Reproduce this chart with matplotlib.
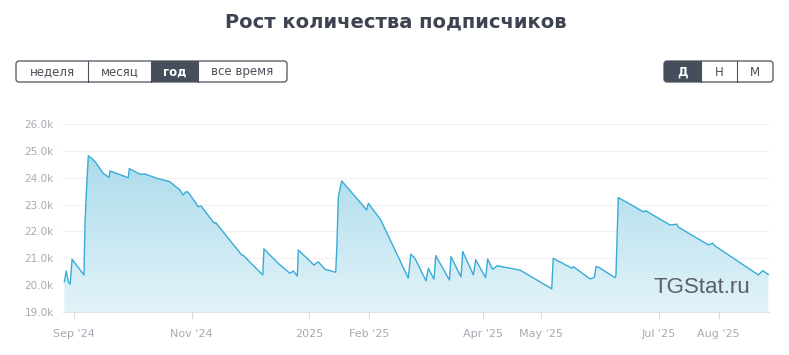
import matplotlib
matplotlib.use("Agg")
import matplotlib.pyplot as plt
import matplotlib.dates as mdates
from matplotlib.patches import FancyBboxPatch, Rectangle, Polygon
import numpy as np
import pandas as pd

title = "Рост количества подписчиков"
period_buttons = ["неделя", "месяц", "год", "все время"]
active_period = "год"
scale_buttons = ["Д", "Н", "М"]
active_scale = "Д"
watermark = "TGStat.ru"

dates = [
    "2024-08-27 00:00", "2024-08-28 00:00", "2024-08-29 00:00", "2024-08-30 00:00", "2024-08-31 00:00",
    "2024-09-06 04:00", "2024-09-06 17:00", "2024-09-07 09:00", "2024-09-08 10:00",
    "2024-09-10 04:00", "2024-09-11 22:00", "2024-09-16 04:00", "2024-09-19 03:00",
    "2024-09-19 16:00", "2024-09-29 03:00", "2024-09-29 16:00", "2024-10-05 05:00",
    "2024-10-07 19:00", "2024-10-13 20:00", "2024-10-20 17:00", "2024-10-25 22:00",
    "2024-10-27 14:00", "2024-10-29 00:00", "2024-10-30 05:00", "2024-11-04 10:00",
    "2024-11-05 19:00", "2024-11-12 17:00", "2024-11-13 10:00", "2024-11-26 22:00",
    "2024-11-27 20:00", "2024-12-07 19:00", "2024-12-08 10:00", "2024-12-15 20:00",
    "2024-12-21 22:00", "2024-12-23 15:00", "2024-12-25 17:00", "2024-12-26 05:00",
    "2025-01-03 08:00", "2025-01-05 14:00", "2025-01-09 01:00", "2025-01-14 14:00",
    "2025-01-15 03:00", "2025-01-15 23:00", "2025-01-17 17:00", "2025-01-30 16:00",
    "2025-01-31 12:00", "2025-02-06 22:00", "2025-02-21 05:00", "2025-02-22 12:00",
    "2025-02-24 17:00", "2025-03-02 09:00", "2025-03-03 14:00", "2025-03-06 12:00",
    "2025-03-07 10:00", "2025-03-14 12:00", "2025-03-15 08:00", "2025-03-20 12:00",
    "2025-03-21 10:00", "2025-03-26 22:00", "2025-03-28 03:00", "2025-04-02 07:00",
    "2025-04-03 08:00", "2025-04-05 22:00", "2025-04-08 07:00", "2025-04-20 02:00",
    "2025-05-04 18:00", "2025-05-06 12:00", "2025-05-07 07:00", "2025-05-16 22:00",
    "2025-05-17 17:00", "2025-05-26 10:00", "2025-05-28 14:00", "2025-05-29 12:00",
    "2025-05-30 17:00", "2025-06-08 07:00", "2025-06-08 19:00", "2025-06-10 00:00",
    "2025-06-16 23:00", "2025-06-22 23:00", "2025-06-24 05:00", "2025-07-06 19:00",
    "2025-07-10 07:00", "2025-07-11 03:00", "2025-07-26 16:00", "2025-07-28 22:00",
    "2025-07-30 03:00", "2025-08-21 14:00", "2025-08-23 19:00", "2025-08-26 17:00",
]
subscribers = [
    20130, 20530, 20130, 20040, 20960,
    20380, 22300, 23420, 24820,
    24720, 24600, 24160, 24010,
    24250, 24000, 24340, 24130,
    24140, 23980, 23850, 23540,
    23360, 23480, 23460, 22920,
    22950, 22300, 22330, 21120,
    21100, 20380, 21350, 20810,
    20440, 20530, 20340, 21310,
    20750, 20870, 20590, 20480,
    21310, 23290, 23880, 22800,
    23050, 22430, 20260, 21150,
    20990, 20160, 20630, 20220,
    21100, 20190, 21060, 20310,
    21250, 20380, 20940, 20280,
    20970, 20590, 20720, 20560,
    19940, 19860, 21000, 20630,
    20690, 20230, 20290, 20690,
    20670, 20280, 20380, 23260,
    22980, 22730, 22770, 22240,
    22270, 22160, 21500, 21560,
    21460, 20380, 20540, 20400,
]

tick_dates = ["2024-09-01", "2024-11-01", "2025-01-01", "2025-02-01",
              "2025-04-01", "2025-05-01", "2025-07-01", "2025-08-01"]
tick_labels = ["Sep '24", "Nov '24", "2025", "Feb '25",
               "Apr '25", "May '25", "Jul '25", "Aug '25"]
y_ticks = [19000, 20000, 21000, 22000, 23000, 24000, 25000, 26000]

W, H = 789, 355
fig = plt.figure(figsize=(W / 100, H / 100), dpi=100)
fig.patch.set_facecolor("white")

ax_l, ax_r, ax_t, ax_b = 63.3, 769.0, 124.0, 312.0
ax = fig.add_axes([ax_l / W, 1 - ax_b / H, (ax_r - ax_l) / W, (ax_b - ax_t) / H])

x = mdates.date2num(pd.to_datetime(dates, format="%Y-%m-%d %H:%M"))
y = np.array(subscribers, dtype=float)
ymin, ymax = y_ticks[0], y_ticks[-1]
xmin = mdates.date2num(pd.Timestamp("2024-08-26 11:00"))
xmax = mdates.date2num(pd.Timestamp("2025-08-27 02:00"))

verts = [(x[0], ymin)] + list(zip(x, y)) + [(x[-1], ymin)]
poly = Polygon(verts, closed=True, facecolor="none", edgecolor="none")
ax.add_patch(poly)
g = np.linspace(0, 1, 256)[:, None, None]
top = np.array([159, 215, 233]) / 255
bot = np.array([227, 243, 249]) / 255
img = top * (1 - g) + bot * g
im = ax.imshow(img, extent=[xmin, xmax, ymin, ymax], aspect="auto",
               origin="upper", zorder=1, interpolation="bilinear")
im.set_clip_path(poly)

ax.plot(x, y, color="#38acd7", lw=1.0, zorder=3)

ax.set_xlim(xmin, xmax)
ax.set_ylim(ymin, ymax)
ax.set_yticks(y_ticks)
ax.set_yticklabels([f"{v/1000:.1f}k" for v in y_ticks])
ax.set_xticks(mdates.date2num(pd.to_datetime(tick_dates, format="%Y-%m-%d")))
ax.set_xticklabels(tick_labels)
ax.grid(axis="y", color="#f0f0f0", lw=0.8)
ax.set_axisbelow(True)
for s in ["top", "right", "left"]:
    ax.spines[s].set_visible(False)
ax.spines["bottom"].set_color("#e2e4e8")
ax.spines["bottom"].set_linewidth(0.8)
ax.tick_params(axis="x", length=5, width=0.8, color="#d8dbe0", labelcolor="#a5aab2",
               labelsize=8, pad=7)
ax.tick_params(axis="y", length=0, pad=7, labelsize=7.5, labelcolor="#a5aab2")
ax.patch.set_visible(False)

ov = fig.add_axes([0, 0, 1, 1])
ov.set_xlim(0, W)
ov.set_ylim(H, 0)
ov.axis("off")
ov.patch.set_visible(False)

ov.text(395.5, 22, title, ha="center", va="center", fontsize=14,
        fontweight="bold", color="#3d4350")

border = "#4b505c"
active_fill = "#474e5b"


def button_group(x0, edges, labels, active, y0=61, y1=82):
    x_end = edges[-1]
    ov.add_patch(FancyBboxPatch((x0, y0), x_end - x0, y1 - y0,
                                boxstyle="round,pad=0,rounding_size=3",
                                facecolor="white", edgecolor="none", zorder=1))
    lefts = [x0] + edges[:-1]
    for i, (l, r, lab) in enumerate(zip(lefts, edges, labels)):
        is_act = lab == active
        if is_act:
            if i == 0:
                ov.add_patch(FancyBboxPatch((l, y0), r - l, y1 - y0,
                                            boxstyle="round,pad=0,rounding_size=3",
                                            facecolor=active_fill, edgecolor="none", zorder=2))
                ov.add_patch(Rectangle(((l + r) / 2, y0), (r - l) / 2, y1 - y0,
                                       facecolor=active_fill, edgecolor="none", zorder=2))
            else:
                ov.add_patch(Rectangle((l, y0), r - l, y1 - y0,
                                       facecolor=active_fill, edgecolor="none", zorder=2))
        ov.text((l + r) / 2, (y0 + y1) / 2 + 0.5, lab, ha="center", va="center",
                fontsize=8.5, color="white" if is_act else "#4a4f58",
                fontweight="bold" if is_act else "normal", zorder=4)
        if i > 0:
            ov.plot([l, l], [y0, y1], color=border, lw=0.8, zorder=3)
    ov.add_patch(FancyBboxPatch((x0, y0), x_end - x0, y1 - y0,
                                boxstyle="round,pad=0,rounding_size=3",
                                facecolor="none", edgecolor=border, lw=0.9, zorder=3))


button_group(16, [88, 151, 198, 287], period_buttons, active_period)
button_group(664, [701, 737, 773], scale_buttons, active_scale)

ov.text(654, 293, watermark, ha="left", va="baseline", fontsize=16,
        family="Liberation Sans", color="#5a6066", zorder=5)

fig.savefig("out.png", dpi=100, facecolor="white")
